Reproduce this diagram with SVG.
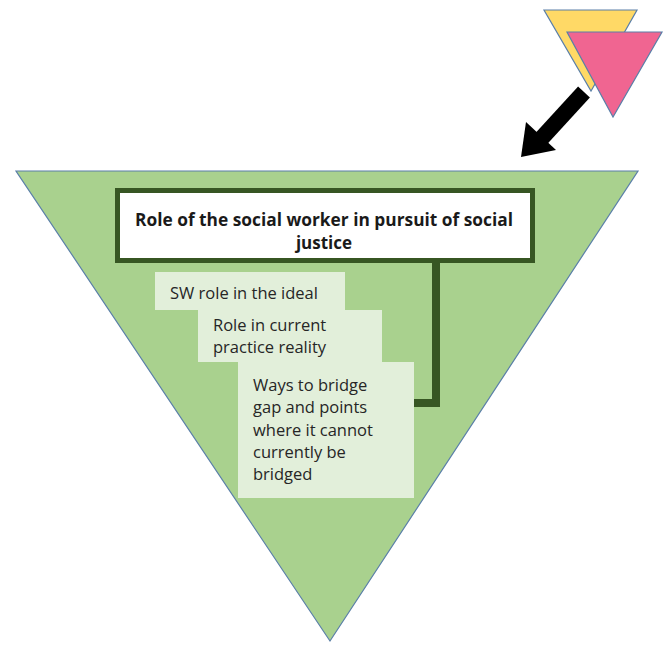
<svg xmlns="http://www.w3.org/2000/svg" width="669" height="646" viewBox="0 0 669 646">
<style>
.tri{stroke:#5a7fa8;stroke-width:1.2}
.sub{fill:#e2efda}
.t{font-family:"Open Sans","Liberation Sans",sans-serif;font-size:16.5px;fill:#262626}
.title{font-family:"Open Sans","Liberation Sans",sans-serif;font-size:17px;font-weight:bold;fill:#1a1a1a}
</style>
<rect width="669" height="646" fill="#fff"/>
<g id="main-triangle"><polygon class="tri" points="16,171 638,171 330,641" fill="#a9d18e"/></g>
<g id="yellow-triangle"><polygon class="tri" points="544,10 637,10 591,91" fill="#ffd966"/></g>
<g id="pink-triangle"><polygon class="tri" points="567,32 662,32 613,117" fill="#f06591"/></g>
<g id="connectors">
<path d="M584,92 L540,140" stroke="#000" stroke-width="16" fill="none"/>
<polygon points="521,157 526,122 556,150" fill="#000"/>
<path d="M436,262 V403 H412" stroke="#375623" stroke-width="8" fill="none"/>
</g>
<g id="title-box">
<rect x="117.5" y="190.5" width="415" height="70" fill="#fff" stroke="#375623" stroke-width="5"/>
<text class="title" x="324" y="226" text-anchor="middle" textLength="378" lengthAdjust="spacingAndGlyphs">Role of the social worker in pursuit of social</text>
<text class="title" x="324" y="249" text-anchor="middle">justice</text>
</g>
<g id="box-ideal">
<rect class="sub" x="155" y="272" width="190" height="38"/>
<text class="t" x="170" y="299">SW role in the ideal</text>
</g>
<g id="box-current">
<rect class="sub" x="198" y="310" width="184" height="52"/>
<text class="t" x="213" y="331">Role in current</text>
<text class="t" x="213" y="353">practice reality</text>
</g>
<g id="box-bridge">
<rect class="sub" x="238" y="362" width="176" height="136"/>
<text class="t" x="253" y="391">Ways to bridge</text>
<text class="t" x="253" y="413">gap and points</text>
<text class="t" x="253" y="436">where it cannot</text>
<text class="t" x="253" y="458">currently be</text>
<text class="t" x="253" y="480">bridged</text>
</g>
</svg>
